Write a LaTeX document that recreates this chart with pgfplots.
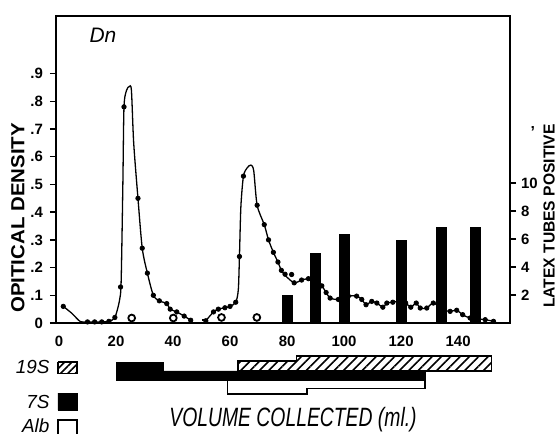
\documentclass[border=0pt]{standalone}
\usepackage{fontspec}
\setmainfont{Liberation Sans}
\usepackage{pgfplots}
\pgfplotsset{compat=1.18}
\usetikzlibrary{patterns.meta}

\pgfplotsset{
  base/.style={
    scale only axis, width=227bp, height=153.5bp,
    at={(0,0)}, anchor=south west,
    xmin=-1.05, xmax=158.2,
    axis line style={line width=0.9bp},
    tick align=outside, major tick length=3bp,
    tick style={line width=0.7bp, black},
    tick label style={font=\fontsize{7.5}{9}\selectfont\bfseries},
    /pgf/number format/assume math mode=true,
  }
}

\begin{document}
\begin{tikzpicture}
\path[use as bounding box] (-28bp,-55.5bp) rectangle (250.5bp,161.5bp);

% optical density
\begin{axis}[base, clip=false,
    ymin=0, ymax=1.108,
    xtick={0,20,40,60,80,100,120,140},
    xticklabels={0,20,40,60,80,100,120,140},
    xtick style={draw=none},
    ytick={0,0.1,0.2,0.3,0.4,0.5,0.6,0.7,0.8,0.9},
    yticklabels={0,.1,.2,.3,.4,.5,.6,.7,.8,.9},
    ytick pos=left,
  ]
  % fractions below the axis
  \addplot[draw=black, fill=white, line width=0.6bp] coordinates {
    (59,-0.206) (59,-0.256) (87,-0.256) (87,-0.235) (128.4,-0.235) (128.4,-0.206) (59,-0.206)};
  \addplot[draw=black, fill=black, line width=0.4bp] coordinates {
    (20,-0.144) (36.5,-0.144) (36.5,-0.173) (128.4,-0.173) (128.4,-0.206) (20,-0.206) (20,-0.144)};
  \addplot[draw=black, line width=0.6bp,
    pattern={Lines[angle=45, distance=3.3bp, line width=0.8bp]}] coordinates {
    (62.8,-0.173) (62.8,-0.137) (83.2,-0.137) (83.2,-0.119) (151.6,-0.119) (151.6,-0.173) (62.8,-0.173)};

  % legend boxes
  \addplot[draw=black, line width=0.6bp,
    pattern={Lines[angle=45, distance=2.6bp, line width=0.8bp]}] coordinates {
    (-0.35,-0.141) (6.3,-0.141) (6.3,-0.181) (-0.35,-0.181) (-0.35,-0.141)};
  \addplot[draw=black, fill=black] coordinates {
    (-0.35,-0.253) (6.6,-0.253) (6.6,-0.314) (-0.35,-0.314) (-0.35,-0.253)};
  \addplot[draw=black, line width=0.6bp] coordinates {
    (-0.35,-0.43) (-0.35,-0.350) (6.3,-0.350) (6.3,-0.43)};

  % curve, first peak
  \addplot[smooth, tension=0.45, line width=0.65bp] coordinates {
    (1.5,0.06) (4.5,0.035) (7.5,0.005) (10,0.004) (12.5,0.004) (15,0.004)
    (17.5,0.006) (19.6,0.02) (21.2,0.08) (21.8,0.15) (22.4,0.5) (22.8,0.78)
    (23.7,0.84) (24.6,0.853) (25.4,0.84) (26.2,0.65) (27.7,0.45) (29.2,0.27)
    (31,0.18) (33.1,0.10) (35.2,0.08) (37.8,0.07) (39,0.05) (41.3,0.04)
    (43.9,0.025) (46.2,0.01)};
  \addplot[line width=0.65bp] coordinates {(50.1,0.011) (51.1,0.011)};
  % curve, second peak and tail
  \addplot[smooth, tension=0.45, line width=0.65bp] coordinates {
    (51.5,0.008) (54.2,0.04) (55.9,0.05) (58.2,0.055) (60,0.06) (62,0.075)
    (62.9,0.12) (63.3,0.24) (63.8,0.42) (64.7,0.53) (66,0.56) (67.3,0.57)
    (68.3,0.55) (69.5,0.425) (72,0.355) (73.5,0.30) (75.2,0.255) (76.8,0.22)
    (78,0.19) (79.5,0.17) (82.5,0.145) (85.1,0.155) (87.5,0.16) (90,0.155)
    (92.2,0.134) (93.7,0.11) (95.1,0.09) (98,0.085) (101.5,0.097) (104.4,0.097)
    (106.2,0.085) (107.7,0.066) (109.7,0.078) (111.5,0.072) (113.6,0.057)
    (115,0.072) (117.1,0.075) (119.1,0.078) (121.6,0.072) (123.4,0.057)
    (125.3,0.072) (126.7,0.054) (129,0.054) (131.3,0.072) (134.8,0.048)
    (137.2,0.042) (139.5,0.046) (141.6,0.030) (144.2,0.018) (149.5,0.012)
    (152.4,0.006)};
  % measured points
  \addplot[only marks, mark=*, mark size=1.1bp] coordinates {
    (1.5,0.06) (10,0.004) (12.5,0.004) (15,0.004) (17.5,0.006) (19.6,0.02)
    (21.6,0.13) (22.8,0.78) (27.7,0.45) (29.2,0.27) (31,0.18) (33.1,0.10)
    (35.2,0.08) (37.8,0.07) (39,0.05) (41.3,0.04) (43.9,0.025) (46.2,0.01)
    (51.5,0.008) (54.2,0.04) (55.9,0.05) (58.2,0.055) (60,0.06) (62,0.075)
    (63.3,0.24) (64.7,0.53) (69.5,0.425) (72,0.355) (73.5,0.30) (75.2,0.255)
    (76.8,0.22) (78,0.19) (79.3,0.176) (81.6,0.175) (82.5,0.145) (85.1,0.155)
    (87.5,0.16) (92.2,0.134) (93.7,0.11) (95.1,0.09) (98,0.085) (101.5,0.097)
    (104.4,0.097) (106.2,0.085) (107.7,0.066) (109.7,0.078) (111.5,0.072)
    (113.6,0.057) (115,0.072) (117.1,0.075) (119.1,0.078) (121.6,0.072)
    (123.4,0.057) (125.3,0.072) (126.7,0.054) (129,0.054) (131.3,0.072)
    (134.8,0.048) (137.2,0.042) (139.5,0.046) (141.6,0.030) (144.2,0.018)
    (149.5,0.012) (152.4,0.006)};
  \addplot[only marks, mark=o, mark size=1.7bp, line width=0.9bp] coordinates {
    (25.5,0.018) (40.1,0.018) (57,0.02) (69.4,0.02)};

  % texts
  \node at (axis cs:15.4,1.04) {\fontsize{10.5}{12}\selectfont\itshape Dn};
  \node[rotate=90] at (axis cs:-14.4,0.379)
    {\scalebox{1.08}[1]{\fontsize{9.5}{11}\selectfont\bfseries OPITICAL DENSITY}};
  \node[rotate=90] at (axis cs:171.9,0.386)
    {\scalebox{0.98}[1]{\fontsize{8}{10}\selectfont\bfseries LATEX TUBES POSITIVE}};
  \node at (axis cs:166.2,0.69) {\fontsize{8}{10}\selectfont\bfseries ’};
  \node at (axis cs:82.1,-0.350)
    {\scalebox{0.73}[1]{\fontsize{13.3}{15}\selectfont\itshape VOLUME COLLECTED (ml.)}};
  \node[anchor=east, inner sep=0pt] at (axis cs:-3.2,-0.159) {\fontsize{9.5}{11}\selectfont\itshape 19S};
  \node[anchor=east, inner sep=0pt] at (axis cs:-3.2,-0.285) {\fontsize{9.5}{11}\selectfont\itshape 7S};
  \node[anchor=east, inner sep=0pt] at (axis cs:-3.2,-0.370) {\fontsize{9.5}{11}\selectfont\itshape Alb};
\end{axis}

% latex tubes positive
\begin{axis}[base,
    ymin=0, ymax=21.93,
    axis x line=none, axis y line*=right,
    ytick={2,4,6,8,10},
    yticklabel style={xshift=-1bp},
  ]
  \addplot[ybar, bar width=5bp, fill=black, draw=black] coordinates {
    (80,2) (90,5) (100,6.3) (120,5.9) (134,6.8) (146,6.8)};
\end{axis}
\end{tikzpicture}
\end{document}
